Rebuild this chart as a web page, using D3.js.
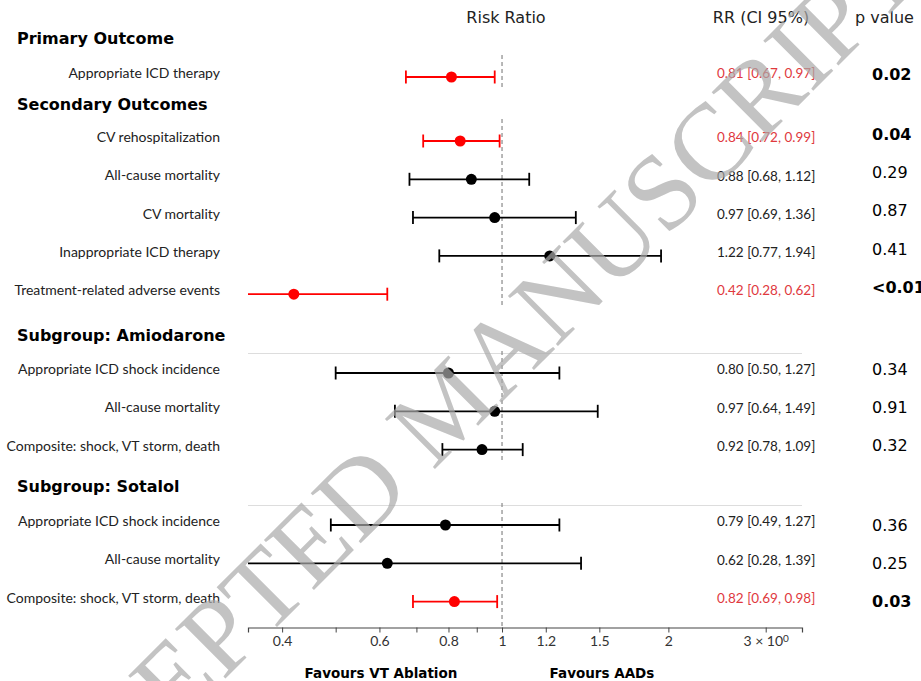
<!DOCTYPE html>
<html>
<head>
<meta charset="utf-8">
<script src="https://cdn.jsdelivr.net/npm/d3@7"></script>
<style>
  body { margin: 0; background: #fff; }
  svg { display: block; }
</style>
</head>
<body>
<svg id="grafico" width="921" height="681"></svg>
<script>

// DATI

var sezioni = ["Primary Outcome", "Secondary Outcomes", "Subgroup: Amiodarone", "Subgroup: Sotalol"];

var esiti = [
    "Appropriate ICD therapy",
    "CV rehospitalization",
    "All-cause mortality",
    "CV mortality",
    "Inappropriate ICD therapy",
    "Treatment-related adverse events",
    "Appropriate ICD shock incidence",
    "All-cause mortality",
    "Composite: shock, VT storm, death",
    "Appropriate ICD shock incidence",
    "All-cause mortality",
    "Composite: shock, VT storm, death"
];

var sezioneDi   = [0, 1, 1, 1, 1, 1, 2, 2, 2, 3, 3, 3];
var rr          = [0.81, 0.84, 0.88, 0.97, 1.22, 0.42, 0.80, 0.97, 0.92, 0.79, 0.62, 0.82];
var ciBasso     = [0.67, 0.72, 0.68, 0.69, 0.77, 0.28, 0.50, 0.64, 0.78, 0.49, 0.28, 0.69];
var ciAlto      = [0.97, 0.99, 1.12, 1.36, 1.94, 0.62, 1.27, 1.49, 1.09, 1.27, 1.39, 0.98];
var pValori     = ["0.02", "0.04", "0.29", "0.87", "0.41", "<0.01", "0.34", "0.91", "0.32", "0.36", "0.25", "0.03"];
var significativo = [true, true, false, false, false, true, false, false, false, false, false, true];

var tickValori = [0.4, 0.5, 0.6, 0.7, 0.8, 0.9, 1, 1.2, 1.5, 2, 3];
var tickEtichette = {0.4: "0.4", 0.6: "0.6", 0.8: "0.8", 1: "1", 1.2: "1.2", 1.5: "1.5", 2: "2", 3: "3 × 10"};

// LAYOUT

var svg = d3.select("#grafico");

var x = d3.scaleLog()
    .domain([0.347, 3.49])
    .range([248, 802]);

var titoloY = [38, 104, 335, 486];
var primaRiga = [39, 37, 38, 39];
var passo = 38.3;
var offsetP = [-3, -7, -4, 0];
var assiY = 627.5;

var righe = esiti.map(function(e, i){
    return {i: i, testo: e, sez: sezioneDi[i], rr: rr[i], lo: ciBasso[i], hi: ciAlto[i], p: pValori[i], sig: significativo[i]};
});

// una scala a punti per ogni sezione
var scaleY = sezioni.map(function(s, k){
    var idx = righe.filter(d => d.sez == k).map(d => d.i);
    var inizio = titoloY[k] + primaRiga[k];
    return d3.scalePoint()
        .domain(idx)
        .range([inizio, inizio + passo * (idx.length - 1)]);
});

function yRiga(d){ return scaleY[d.sez](d.i); }

var rosso = "#ff0000";
var rossoTesto = "#e0393e";
var fontEtichette = "Lato, 'Open Sans', sans-serif";

svg.append("defs").append("clipPath").attr("id", "taglio")
    .append("rect")
    .attr("x", x.range()[0]).attr("y", 0)
    .attr("width", x.range()[1] - x.range()[0]).attr("height", 681);

// intestazioni colonne
svg.append("text").attr("x", 506).attr("y", 17).attr("dy", "0.35em")
    .attr("text-anchor", "middle").style("font-family", "DejaVu Sans").style("font-size", "16px")
    .attr("fill", "#222").text("Risk Ratio");
svg.append("text").attr("x", 761).attr("y", 17).attr("dy", "0.35em")
    .attr("text-anchor", "middle").style("font-family", "DejaVu Sans").style("font-size", "16px")
    .attr("fill", "#222").text("RR (CI 95%)");
svg.append("text").attr("x", 855).attr("y", 17).attr("dy", "0.35em")
    .attr("text-anchor", "start").style("font-family", "DejaVu Sans").style("font-size", "16px")
    .attr("fill", "#222").text("p value");

// titoli sezioni
svg.selectAll(".titolo")
    .data(sezioni)
    .enter()
    .append("text")
    .attr("class", "titolo")
    .attr("x", 17)
    .attr("y", (d, k) => titoloY[k])
    .attr("dy", "0.35em")
    .style("font-family", "DejaVu Sans")
    .style("font-weight", "bold")
    .style("font-size", "16px")
    .attr("fill", "#000")
    .text(d => d);

// linee grigie in cima ai sottogruppi
svg.selectAll(".separatore")
    .data([2, 3])
    .enter()
    .append("line")
    .attr("x1", x.range()[0]).attr("x2", x.range()[1])
    .attr("y1", k => scaleY[k].range()[0] - 19.5)
    .attr("y2", k => scaleY[k].range()[0] - 19.5)
    .attr("stroke", "#dddddd")
    .attr("stroke-width", 1);

// linea di riferimento tratteggiata, un segmento per sezione
svg.selectAll(".riferimento")
    .data(sezioni)
    .enter()
    .append("line")
    .attr("x1", x(1)).attr("x2", x(1))
    .attr("y1", (d, k) => scaleY[k].range()[0] - 22)
    .attr("y2", (d, k) => k == 3 ? assiY : scaleY[k].range()[1] + 12)
    .attr("stroke", "#888")
    .attr("stroke-width", 1.2)
    .attr("stroke-dasharray", "4,3");

// etichette righe
svg.selectAll(".etichetta")
    .data(righe)
    .enter()
    .append("text")
    .attr("x", 220)
    .attr("y", d => yRiga(d) - 4)
    .attr("dy", "0.35em")
    .attr("text-anchor", "end")
    .style("font-family", fontEtichette)
    .style("font-size", "14px")
    .attr("fill", "#222")
    .text(d => d.testo);

// barre di errore
var barre = svg.append("g").attr("clip-path", "url(#taglio)");

barre.selectAll(".ci")
    .data(righe)
    .enter()
    .append("line")
    .attr("x1", d => x(d.lo)).attr("x2", d => x(d.hi))
    .attr("y1", yRiga).attr("y2", yRiga)
    .attr("stroke", d => d.sig ? rosso : "#000")
    .attr("stroke-width", 1.8);

barre.selectAll(".capBasso")
    .data(righe)
    .enter()
    .append("line")
    .attr("x1", d => x(d.lo)).attr("x2", d => x(d.lo))
    .attr("y1", d => yRiga(d) - 6.5).attr("y2", d => yRiga(d) + 6.5)
    .attr("stroke", d => d.sig ? rosso : "#000")
    .attr("stroke-width", 1.8);

barre.selectAll(".capAlto")
    .data(righe)
    .enter()
    .append("line")
    .attr("x1", d => x(d.hi)).attr("x2", d => x(d.hi))
    .attr("y1", d => yRiga(d) - 6.5).attr("y2", d => yRiga(d) + 6.5)
    .attr("stroke", d => d.sig ? rosso : "#000")
    .attr("stroke-width", 1.8);

barre.selectAll(".punto")
    .data(righe)
    .enter()
    .append("circle")
    .attr("cx", d => x(d.rr))
    .attr("cy", yRiga)
    .attr("r", 5.5)
    .attr("fill", d => d.sig ? rosso : "#000");

// testo RR [CI]
svg.selectAll(".rrTesto")
    .data(righe)
    .enter()
    .append("text")
    .attr("x", 717)
    .attr("y", d => yRiga(d) - 3.5)
    .attr("dy", "0.35em")
    .style("font-family", fontEtichette)
    .style("font-size", "13.5px")
    .attr("fill", d => d.sig ? rossoTesto : "#222")
    .text(d => d.rr.toFixed(2) + " [" + d.lo.toFixed(2) + ", " + d.hi.toFixed(2) + "]");

// p value
svg.selectAll(".pTesto")
    .data(righe)
    .enter()
    .append("text")
    .attr("x", 872)
    .attr("y", d => yRiga(d) + offsetP[d.sez])
    .attr("dy", "0.35em")
    .style("font-family", "DejaVu Sans")
    .style("font-size", "16px")
    .style("font-weight", d => d.sig ? "bold" : "normal")
    .attr("fill", "#000")
    .text(d => d.p);

// asse x
var asse = d3.axisBottom(x)
    .tickValues(tickValori)
    .tickSize(5)
    .tickFormat(d => tickEtichette[d] || "");

var gAsse = svg.append("g")
    .attr("transform", "translate(0," + assiY + ")")
    .call(asse);

gAsse.select(".domain").attr("stroke", "#444").attr("stroke-width", 1.2);
gAsse.selectAll(".tick line").attr("stroke", "#444");
gAsse.selectAll(".tick text")
    .style("font-family", fontEtichette)
    .style("font-size", "14px")
    .attr("fill", "#333")
    .attr("y", 9);

gAsse.selectAll(".tick text")
    .filter(d => d == 3)
    .append("tspan")
    .attr("dy", "-0.45em")
    .style("font-size", "10px")
    .text("0");

// etichette in basso
svg.append("text").attr("x", 381).attr("y", 673).attr("dy", "0.35em")
    .attr("text-anchor", "middle").style("font-family", "DejaVu Sans").style("font-weight", "bold")
    .style("font-size", "13.5px").text("Favours VT Ablation");
svg.append("text").attr("x", 602).attr("y", 673).attr("dy", "0.35em")
    .attr("text-anchor", "middle").style("font-family", "DejaVu Sans").style("font-weight", "bold")
    .style("font-size", "13.5px").text("Favours AADs");

// filigrana
svg.append("text")
    .attr("transform", "translate(472,432) rotate(-45)")
    .attr("text-anchor", "middle")
    .style("font-family", "'Liberation Serif', serif")
    .style("font-size", "108px")
    .attr("fill", "#aaaaaa")
    .attr("opacity", 0.7)
    .text("ACCEPTED MANUSCRIPT");

</script>
</body>
</html>
